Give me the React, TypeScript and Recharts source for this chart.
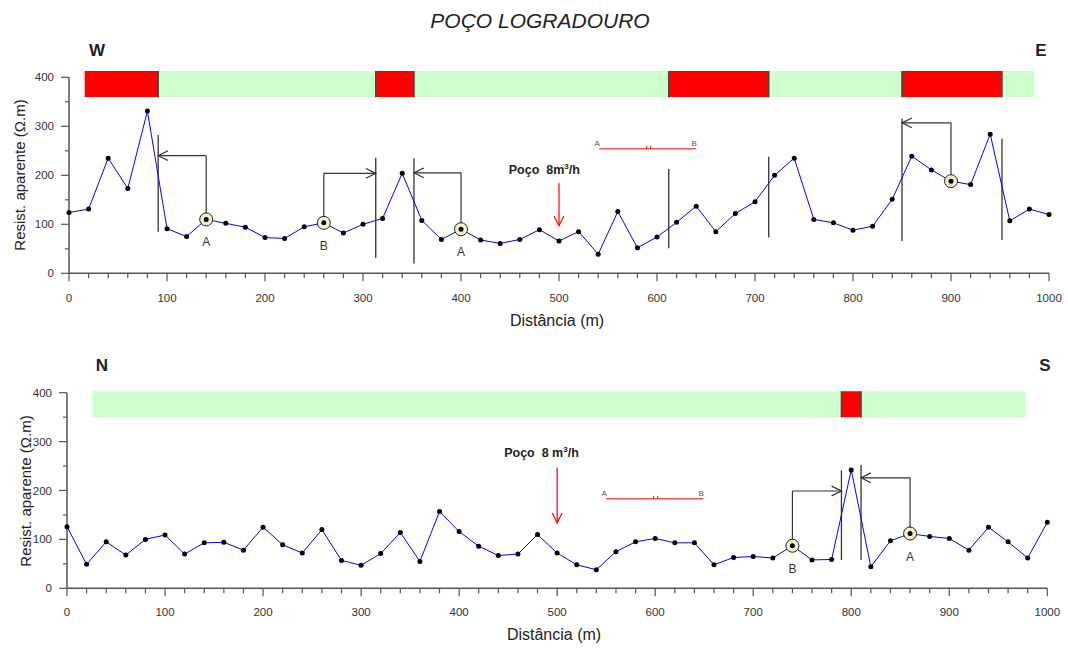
import React from "react";
import {
  LineChart,
  Line,
  XAxis,
  YAxis,
  ReferenceArea,
  ReferenceLine,
  ReferenceDot,
} from "recharts";

// distâncias ao longo do perfil (m)
const distancias = [
  0, 20, 40, 60, 80, 100, 120, 140, 160, 180, 200, 220, 240, 260, 280, 300,
  320, 340, 360, 380, 400, 420, 440, 460, 480, 500, 520, 540, 560, 580, 600,
  620, 640, 660, 680, 700, 720, 740, 760, 780, 800, 820, 840, 860, 880, 900,
  920, 940, 960, 980, 1000,
];

// resistividade aparente, perfil W-E
const resistWE = [
  124, 131, 235, 173, 331, 91, 75, 110, 102, 94, 73, 71, 95, 103, 82, 100,
  112, 204, 108, 69, 90, 68, 61, 69, 89, 66, 85, 39, 126, 52, 74, 104, 137,
  85, 122, 146, 200, 235, 110, 103, 88, 96, 151, 239, 211, 188, 181, 284, 107,
  131, 120,
];

// resistividade aparente, perfil N-S
const resistNS = [
  126, 49, 95, 68, 100, 109, 70, 93, 94, 78, 125, 89, 72, 120, 57, 47, 71,
  114, 55, 157, 116, 86, 67, 70, 110, 72, 48, 38, 75, 95, 102, 93, 93, 48, 63,
  65, 62, 87, 58, 59, 242, 44, 97, 112, 106, 102, 78, 125, 95, 62, 135,
];

const yTicks = [0, 50, 100, 150, 200, 250, 300, 350, 400];

// zonas interpretadas: [início, fim, tipo]
const zonasWE: [number, number, string][] = [
  [16, 91, "anomalia"],
  [91, 313, "normal"],
  [313, 352, "anomalia"],
  [352, 612, "normal"],
  [612, 714, "anomalia"],
  [714, 850, "normal"],
  [850, 952, "anomalia"],
  [952, 985, "normal"],
];
const zonasNS: [number, number, string][] = [
  [26, 790, "normal"],
  [790, 810, "anomalia"],
  [810, 978, "normal"],
];
const faixaWE: [number, number] = [360, 413];
const faixaNS: [number, number] = [350, 403];

// linhas verticais de limite: [x, de, até]
const limitesWE: [number, number, number][] = [
  [91, 85, 282],
  [313, 31, 236],
  [352, 20, 235],
  [612, 51, 213],
  [714, 73, 238],
  [850, 66, 316],
  [952, 68, 275],
];
const limitesNS: [number, number, number][] = [
  [790, 58, 241],
  [810, 58, 252],
];

// pontos destacados: [x, valor, letra, alvo da seta, topo da seta]
const destaquesWE: [number, number, string, number, number][] = [
  [140, 110, "A", 91, 240],
  [260, 103, "B", 313, 204],
  [400, 90, "A", 352, 205],
  [900, 188, "", 850, 307],
];
const destaquesNS: [number, number, string, number, number][] = [
  [740, 87, "B", 790, 199],
  [860, 112, "A", 810, 226],
];

// poço: [x, topo da seta, ponta, x do texto, y do texto]
const pocoWE = [500, 184, 97, 485, 211];
const pocoNS = [500, 247, 134, 484, 277];
const pocoTextoWE = ["Poço  8m", "/h"];
const pocoTextoNS = ["Poço  8 m", "/h"];

// escala AB: [início, fim, y]
const escalaWE = [541, 640, 254];
const escalaNS = [550, 649, 183];

const corZona = (t: string) => (t === "anomalia" ? "#ff0000" : "#ccffcc");

const XTick = (props: any) => {
  const { x, y, payload, dyLabel } = props;
  const major = payload.value % 100 === 0;
  return (
    <g>
      <line x1={x} x2={x} y1={y} y2={y + (major ? 8 : 5)} stroke="#555" strokeWidth={1.2} />
      {major && (
        <text x={x} y={y + dyLabel} textAnchor="middle" fontSize={11.5} fill="#333">
          {payload.value}
        </text>
      )}
    </g>
  );
};

const YTick = (props: any) => {
  const { x, y, payload } = props;
  const major = payload.value % 100 === 0;
  return (
    <g>
      <line x1={x - (major ? 8 : 4)} x2={x} y1={y} y2={y} stroke="#555" strokeWidth={1.2} />
      {major && (
        <text x={x - 15} y={y + 4} textAnchor="end" fontSize={11.5} fill="#333">
          {payload.value}
        </text>
      )}
    </g>
  );
};

const Seta = (props: any) => {
  const { x1, y1, x2, y2, stroke, strokeWidth } = props;
  const a = Math.atan2(y2 - y1, x2 - x1);
  const L = 11;
  const s = 0.46;
  const ax = x2 - L * Math.cos(a - s);
  const ay = y2 - L * Math.sin(a - s);
  const bx = x2 - L * Math.cos(a + s);
  const by = y2 - L * Math.sin(a + s);
  return (
    <g>
      <line x1={x1} y1={y1} x2={x2} y2={y2} stroke={stroke} strokeWidth={strokeWidth} />
      <polyline
        points={`${ax},${ay} ${x2},${y2} ${bx},${by}`}
        fill="none"
        stroke={stroke}
        strokeWidth={strokeWidth}
      />
    </g>
  );
};

const Destaque = (props: any) => {
  const { cx, cy, letra } = props;
  return (
    <g>
      <circle cx={cx} cy={cy} r={6.5} fill="#f7f3c6" stroke="#222" strokeWidth={1} />
      <circle cx={cx} cy={cy} r={2.5} fill="#000" />
      {letra && (
        <text x={cx} y={cy + 27} textAnchor="middle" fontSize={12} fill="#333">
          {letra}
        </text>
      )}
    </g>
  );
};

const EscalaAB = (props: any) => {
  const { x1, y1, x2 } = props;
  const m = (x1 + x2) / 2 + 1;
  return (
    <g>
      <line x1={x1} y1={y1} x2={x2} y2={y1} stroke="#ff0000" strokeWidth={1} />
      <line x1={m - 2} y1={y1 - 3} x2={m - 2} y2={y1} stroke="#ff0000" strokeWidth={1} />
      <line x1={m + 2} y1={y1 - 3} x2={m + 2} y2={y1} stroke="#ff0000" strokeWidth={1} />
      <text x={x1 - 2} y={y1 - 3} textAnchor="middle" fontSize={8} fill="#555">A</text>
      <text x={x2 - 2} y={y1 - 3} textAnchor="middle" fontSize={8} fill="#555">B</text>
    </g>
  );
};

const TextoPoco = (props: any) => {
  const { cx, cy, partes } = props;
  return (
    <text
      x={cx}
      y={cy + 4}
      textAnchor="middle"
      fontSize={12.5}
      fontWeight="bold"
      fill="#222"
      style={{ whiteSpace: "pre" }}
    >
      {partes[0]}
      <tspan dy={-5} fontSize={8}>3</tspan>
      <tspan dy={5}>{partes[1]}</tspan>
    </text>
  );
};

const Txt = ({ x, y, children, style }: any) => (
  <div
    style={{
      position: "absolute",
      left: x,
      top: y,
      transform: "translate(-50%, -50%)",
      whiteSpace: "nowrap",
      lineHeight: 1,
      ...style,
    }}
  >
    {children}
  </div>
);

type PerfilProps = {
  valores: number[];
  zonas: [number, number, string][];
  faixa: [number, number];
  limites: [number, number, number][];
  destaques: [number, number, string, number, number][];
  poco: number[];
  pocoTexto: string[];
  escala: number[];
  top: number;
  height: number;
  margin: { top: number; right: number; bottom: number; left: number };
  yWidth: number;
  dyLabel: number;
};

function Perfil(p: PerfilProps) {
  const data = distancias.map((d, i) => ({ d, r: p.valores[i] }));
  const fronteiras = p.zonas.slice(1).map((z) => z[0]);
  return (
    <div style={{ position: "absolute", left: 0, top: p.top }}>
      <LineChart width={1068} height={p.height} data={data} margin={p.margin}>
        <XAxis
          dataKey="d"
          type="number"
          domain={[0, 1000]}
          ticks={distancias}
          interval={0}
          height={30}
          tickSize={0}
          tickMargin={0}
          tickLine={false}
          stroke="#555"
          strokeWidth={1.5}
          tick={<XTick dyLabel={p.dyLabel} />}
        />
        <YAxis
          type="number"
          domain={[0, 400]}
          ticks={yTicks}
          interval={0}
          width={p.yWidth}
          tickSize={0}
          tickMargin={0}
          tickLine={false}
          stroke="#555"
          strokeWidth={1.5}
          tick={<YTick />}
        />
        {p.zonas.map(([a, b, t], i) => (
          <ReferenceArea
            key={"z" + i}
            x1={a}
            x2={b}
            y1={p.faixa[0]}
            y2={p.faixa[1]}
            fill={corZona(t)}
            fillOpacity={1}
            stroke="none"
            ifOverflow="visible"
          />
        ))}
        {fronteiras.map((x, i) => (
          <ReferenceLine
            key={"f" + i}
            segment={[
              { x, y: p.faixa[0] - 1 },
              { x, y: p.faixa[1] },
            ]}
            stroke="#444"
            strokeWidth={1.5}
            ifOverflow="visible"
          />
        ))}
        {p.limites.map(([x, a, b], i) => (
          <ReferenceLine
            key={"l" + i}
            segment={[
              { x, y: a },
              { x, y: b },
            ]}
            stroke="#333"
            strokeWidth={1.3}
            ifOverflow="visible"
          />
        ))}
        {p.destaques.map(([x, v, , alvo, topo], i) => (
          <ReferenceLine
            key={"dv" + i}
            segment={[
              { x, y: v },
              { x, y: topo },
            ]}
            stroke="#333"
            strokeWidth={1.2}
            ifOverflow="visible"
          />
        ))}
        {p.destaques.map(([x, , , alvo, topo], i) => (
          <ReferenceLine
            key={"dh" + i}
            segment={[
              { x, y: topo },
              { x: alvo, y: topo },
            ]}
            stroke="#333"
            strokeWidth={1.2}
            ifOverflow="visible"
            shape={(sp: any) => <Seta {...sp} />}
          />
        ))}
        <ReferenceLine
          segment={[
            { x: p.poco[0], y: p.poco[1] },
            { x: p.poco[0], y: p.poco[2] },
          ]}
          stroke="#ff0000"
          strokeWidth={1.2}
          ifOverflow="visible"
          shape={(sp: any) => <Seta {...sp} />}
        />
        <ReferenceDot
          x={p.poco[3]}
          y={p.poco[4]}
          r={0}
          ifOverflow="visible"
          shape={(sp: any) => <TextoPoco {...sp} partes={p.pocoTexto} />}
        />
        <ReferenceLine
          segment={[
            { x: p.escala[0], y: p.escala[2] },
            { x: p.escala[1], y: p.escala[2] },
          ]}
          stroke="#ff0000"
          ifOverflow="visible"
          shape={(sp: any) => <EscalaAB {...sp} />}
        />
        <Line
          dataKey="r"
          stroke="#0000ff"
          strokeWidth={1}
          dot={{ r: 2.5, fill: "#000", stroke: "#000", strokeWidth: 0 }}
          activeDot={false}
          isAnimationActive={false}
        />
        {p.destaques.map(([x, v, letra], i) => (
          <ReferenceDot
            key={"c" + i}
            x={x}
            y={v}
            r={6.5}
            ifOverflow="visible"
            shape={(sp: any) => <Destaque {...sp} letra={letra} />}
          />
        ))}
      </LineChart>
    </div>
  );
}

export default function App() {
  return (
    <div
      style={{
        position: "absolute",
        left: 0,
        top: 0,
        width: 1068,
        height: 648,
        background: "#fff",
        fontFamily: "'Liberation Sans', Arial, sans-serif",
        color: "#222",
      }}
    >
      <Perfil
        valores={resistWE}
        zonas={zonasWE}
        faixa={faixaWE}
        limites={limitesWE}
        destaques={destaquesWE}
        poco={pocoWE}
        pocoTexto={pocoTextoWE}
        escala={escalaWE}
        top={0}
        height={330}
        margin={{ top: 77.3, right: 19, bottom: 26.7, left: 0 }}
        yWidth={69}
        dyLabel={29}
      />
      <Perfil
        valores={resistNS}
        zonas={zonasNS}
        faixa={faixaNS}
        limites={limitesNS}
        destaques={destaquesNS}
        poco={pocoNS}
        pocoTexto={pocoTextoNS}
        escala={escalaNS}
        top={330}
        height={318}
        margin={{ top: 62.7, right: 20.7, bottom: 29.7, left: 0 }}
        yWidth={67}
        dyLabel={28}
      />
      <Txt x={540} y={20} style={{ fontSize: 21, fontStyle: "italic" }}>
        POÇO LOGRADOURO
      </Txt>
      <Txt x={97} y={50} style={{ fontSize: 17, fontWeight: "bold" }}>W</Txt>
      <Txt x={1041} y={50} style={{ fontSize: 17, fontWeight: "bold" }}>E</Txt>
      <Txt x={102} y={365} style={{ fontSize: 17, fontWeight: "bold" }}>N</Txt>
      <Txt x={1045} y={365} style={{ fontSize: 17, fontWeight: "bold" }}>S</Txt>
      <Txt x={19} y={175} style={{ fontSize: 15, transform: "translate(-50%, -50%) rotate(-90deg)" }}>
        Resist. aparente (Ω.m)
      </Txt>
      <Txt x={25} y={491} style={{ fontSize: 15, transform: "translate(-50%, -50%) rotate(-90deg)" }}>
        Resist. aparente (Ω.m)
      </Txt>
      <Txt x={557} y={321} style={{ fontSize: 16 }}>Distância (m)</Txt>
      <Txt x={554} y={635} style={{ fontSize: 16 }}>Distância (m)</Txt>
    </div>
  );
}
